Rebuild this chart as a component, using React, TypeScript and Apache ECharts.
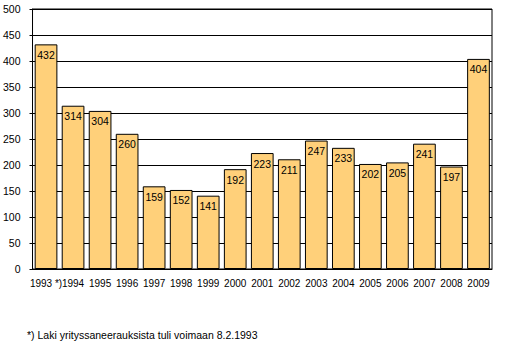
import React, { useEffect, useRef } from "react";
import * as echarts from "echarts";

const categories = ["1993 *)", "1994", "1995", "1996", "1997", "1998", "1999", "2000", "2001", "2002", "2003", "2004", "2005", "2006", "2007", "2008", "2009"];
const values = [432, 314, 304, 260, 159, 152, 141, 192, 223, 211, 247, 233, 202, 205, 241, 197, 404];
const footnote = "*) Laki yrityssaneerauksista tuli voimaan 8.2.1993";

export default function App() {
  const ref = useRef<HTMLDivElement>(null);
  useEffect(() => {
    document.body.style.margin = "0";
    const chart = echarts.init(ref.current!, null, { renderer: "svg" });
    const font = "Liberation Sans, Arial, sans-serif";
    chart.setOption({
      animation: false,
      backgroundColor: "#ffffff",
      grid: {
        left: 30, right: 26, top: 9, bottom: 85,
        show: true, borderColor: "#000", borderWidth: 1,
      },
      xAxis: {
        type: "category",
        data: categories,
        axisLine: { lineStyle: { color: "#000", width: 1 } },
        axisTick: { show: false },
        axisLabel: { color: "#000", fontSize: 10, fontFamily: font, margin: 9, interval: 0 },
      },
      yAxis: {
        type: "value",
        min: 0, max: 500, interval: 50,
        axisLine: { show: true, lineStyle: { color: "#000", width: 1 } },
        axisTick: { show: true, length: 3, inside: false, lineStyle: { color: "#000" } },
        axisLabel: { color: "#000", fontSize: 10.5, fontFamily: font, margin: 12 },
        splitLine: { lineStyle: { color: "#000", width: 1 } },
      },
      series: [
        {
          type: "bar",
          data: values,
          barCategoryGap: "16%",
          itemStyle: { color: "#FFD07A", borderColor: "#000", borderWidth: 1 },
          label: {
            show: true, position: "insideTop", distance: 5,
            color: "#000", fontSize: 10.5, fontFamily: font,
          },
        },
      ],
      graphic: [
        {
          type: "text", left: 27, top: 329,
          style: { text: footnote, fill: "#000", fontSize: 10.5, fontFamily: font },
        },
      ],
    });
    return () => chart.dispose();
  }, []);
  return <div ref={ref} style={{ width: 518, height: 354 }} />;
}
